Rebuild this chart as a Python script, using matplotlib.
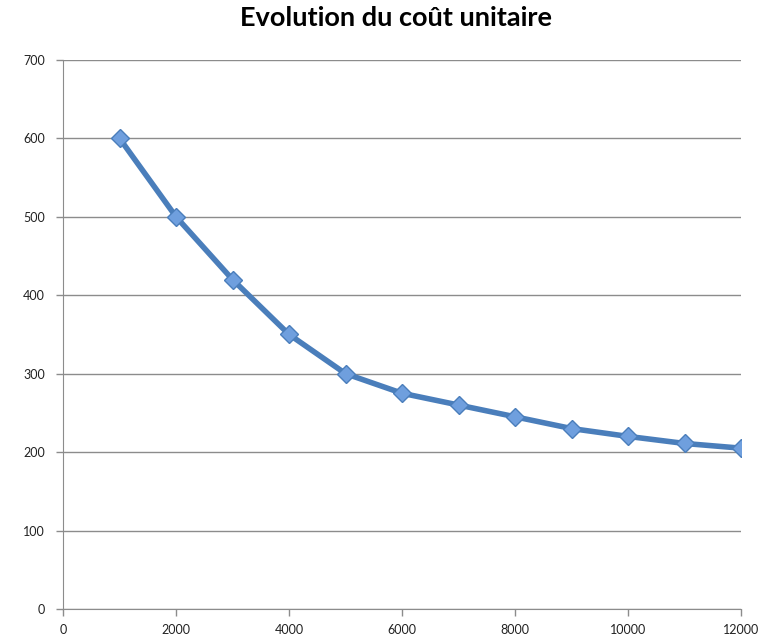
import matplotlib.pyplot as plt
import numpy as np

# quantites produites et cout unitaire
quantite = [1000, 2000, 3000, 4000, 5000, 6000, 7000, 8000, 9000, 10000, 11000, 12000]
cout = [600, 500, 420, 350, 300, 275, 260, 245, 230, 220, 211, 205]

plt.rcParams['font.family'] = ['Lato', 'DejaVu Sans']

fig = plt.figure(figsize=(7.76, 6.37), dpi=100)
ax = fig.add_axes([0.0812, 0.044, 0.8738, 0.862])

ax.plot(quantite, cout, color='#4A7EBB', linewidth=4, zorder=3,
        marker='D', markersize=9, markerfacecolor='#6F9FDE', markeredgecolor='#4A7EBB',
        markeredgewidth=1)

ax.set_xlim(0, 12000)
ax.set_ylim(0, 700)
ax.set_xticks(np.arange(0, 12001, 2000))
ax.set_yticks(np.arange(0, 701, 100))
ax.grid(axis='y', color='#8C8C8C', linewidth=1)
ax.set_axisbelow(True)

for s in ['top', 'right']:
    ax.spines[s].set_visible(False)
for s in ['left', 'bottom']:
    ax.spines[s].set_color('#8C8C8C')
ax.tick_params(colors='#8C8C8C', labelcolor='#222222', labelsize=9, length=5, width=1)
ax.tick_params(axis='x', pad=6)
ax.tick_params(axis='y', pad=8)

fig.suptitle('Evolution du coût unitaire', x=0.51, y=0.99, fontsize=19.5, fontweight='bold')

plt.savefig('out.png', dpi=100)
